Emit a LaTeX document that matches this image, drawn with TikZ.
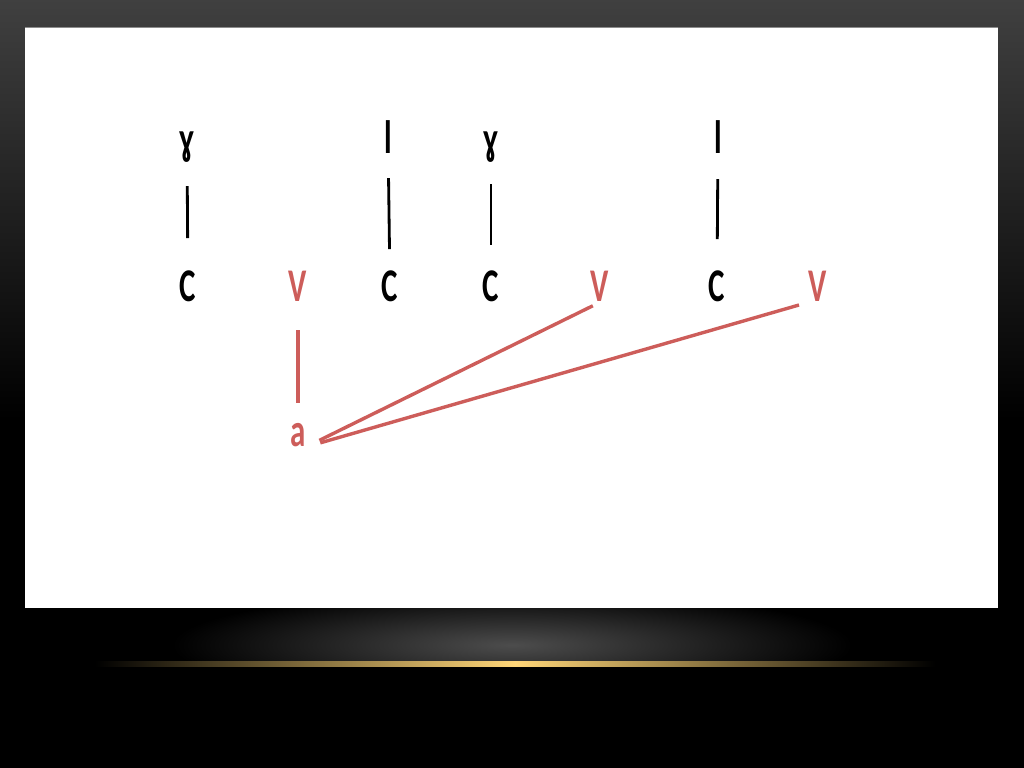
\documentclass[tikz,border=0pt]{standalone}
\usepackage{fontspec}
\usepackage{tikz}
\usetikzlibrary{positioning}
\newfontfamily\lbl[FakeStretch=0.66]{Carlito}
\definecolor{vred}{RGB}{205,93,90}
\definecolor{glow}{RGB}{255,214,120}

\begin{document}
\begin{tikzpicture}[x=0.03cm, y=-0.03cm,
  seg/.style={font=\lbl\bfseries\fontsize{40}{40}\selectfont, inner sep=0pt, anchor=base},
  vow/.style={seg, text=vred},
  tie/.style={line width=2.4pt, black},
  rtie/.style={line width=2.9pt, vred}]
\useasboundingbox (0,0) rectangle (1024,768);
% frame
\fill[black] (0,0) rectangle (1024,768);
\shade[top color=black!75, bottom color=black] (0,0) rectangle (1024,420);
\shade[inner color=black!70, outer color=black] (512,645) ellipse (340 and 55);
\fill[black] (0,662) rectangle (1024,768);
\shade[left color=black, right color=black, middle color=glow] (95,661) rectangle (935,666);
\fill[black!45] (25,27) rectangle (998,608);
\fill[white] (25,28) rectangle (998,608);

% top row
\node[seg] (g1) at (187,155) {ɣ};
\node[seg] (l1) at (388,154) {l};
\node[seg] (g2) at (491,155) {ɣ};
\node[seg] (l2) at (718,154) {l};

% skeleton
\node[seg] (c1) at (188,302) {C};
\node[vow] (v1) at (298,302) {V};
\node[seg] (c2) at (390,302) {C};
\node[seg] (c3) at (491,302) {C};
\node[vow] (v2) at (600,302) {V};
\node[seg] (c4) at (717,302) {C};
\node[vow] (v3) at (818,302) {V};

\node[vow] (a) at (298,447) {a};

\draw[tie, shorten <=0.69cm, shorten >=0.99cm] (g1) -- (c1);
\draw[tie, shorten <=0.72cm, shorten >=0.66cm] (l1) -- (c2);
\draw[tie, shorten <=0.63cm, shorten >=0.78cm] (g2) -- (c3);
\draw[tie, shorten <=0.75cm, shorten >=0.96cm] (l2) -- (c4);

\draw[rtie, shorten <=0.84cm, shorten >=0.63cm] (v1) -- (a);
\draw[rtie, shorten <=0.45cm, shorten >=0.24cm] (a.base east) -- (v2.south);
\draw[rtie, shorten <=0.45cm, shorten >=0.3cm] (a.base east) -- (v3.south west);
\end{tikzpicture}
\end{document}
